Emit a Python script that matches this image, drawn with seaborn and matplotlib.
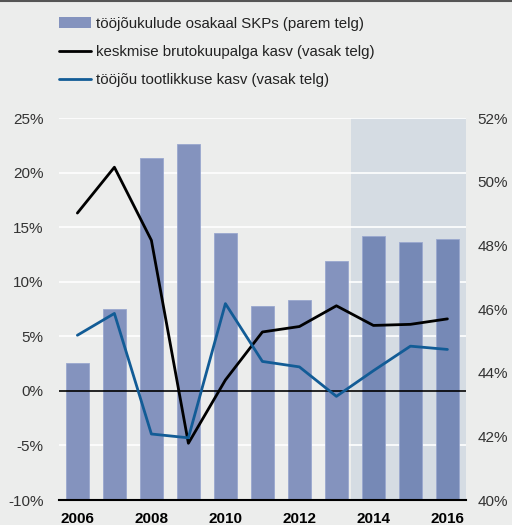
import matplotlib.pyplot as plt
import numpy as np
import seaborn as sns
from matplotlib.lines import Line2D
from matplotlib.patches import Patch
from matplotlib.ticker import FixedLocator, FuncFormatter
from matplotlib.transforms import blended_transform_factory

years = [2006, 2007, 2008, 2009, 2010, 2011, 2012, 2013, 2014, 2015, 2016]
labour_share = [44.3, 46.0, 50.75, 51.2, 48.4, 46.1, 46.3, 47.5, 48.3, 48.1, 48.2]
wage_growth = [16.3, 20.5, 13.8, -4.8, 1.0, 5.4, 5.9, 7.8, 6.0, 6.1, 6.6]
productivity_growth = [5.1, 7.1, -3.95, -4.3, 8.0, 2.7, 2.2, -0.5, 1.85, 4.1, 3.8]
forecast_years = [2014, 2015, 2016]

labels = [
    "tööjõukulude osakaal SKPs (parem telg)",
    "keskmise brutokuupalga kasv (vasak telg)",
    "tööjõu tootlikkuse kasv (vasak telg)",
]
left_ticks = [-10, -5, 0, 5, 10, 15, 20, 25]
right_ticks = [40, 42, 44, 46, 48, 50, 52]

BG = "#ECEDEC"
BAND = "#D5DCE3"
BAR = "#8493BE"
BAR_FC = "#7689B6"
BLUE = "#125C96"
TXT = "#333333"


def main():
    sns.set_style("white")
    plt.rcParams["font.family"] = ["Liberation Sans", "DejaVu Sans"]

    fig = plt.figure(figsize=(5.12, 5.25), dpi=100, facecolor=BG)
    ax = fig.add_axes([0.115, 0.0476, 0.795, 0.7274], facecolor=BG)
    ax2 = ax.twinx()

    # shaded forecast band
    ax.axvspan(forecast_years[0] - 0.6, forecast_years[-1] + 0.5, color=BAND, zorder=0, lw=0)

    # gridlines follow the left axis scale but sit below the bars
    trans = blended_transform_factory(ax.transAxes, ax2.transData)
    for t in left_ticks[1:]:
        ax.plot([0, 1], [t, t], transform=trans, color="white", lw=1.2, zorder=0.5)

    colors = [BAR_FC if y in forecast_years else BAR for y in years]
    sns.barplot(x=years, y=labour_share, hue=years, palette=colors, legend=False,
                native_scale=True, width=0.62, ax=ax, zorder=2,
                edgecolor="#9AA8CF", linewidth=0.6, saturation=1)

    ax2.axhline(0, color="black", lw=1.2, zorder=1)
    sns.lineplot(x=years, y=wage_growth, color="black", lw=2, ax=ax2)
    sns.lineplot(x=years, y=productivity_growth, color=BLUE, lw=2, ax=ax2)

    ax.set_xlim(years[0] - 0.5, years[-1] + 0.5)
    ax.set_ylim(40, 52)
    ax2.set_ylim(-10, 25)

    # right axis: bars
    ax.yaxis.tick_right()
    ax.set_yticks(right_ticks)
    ax.yaxis.set_major_formatter(FuncFormatter(lambda v, p: f"{v:.0f}%"))
    ax.tick_params(axis="y", length=0, pad=8.5, labelsize=11, labelcolor=TXT)

    # left axis: lines
    ax2.yaxis.tick_left()
    ax2.set_yticks(left_ticks)
    ax2.yaxis.set_major_formatter(FuncFormatter(lambda v, p: f"{v:.0f}%"))
    ax2.tick_params(axis="y", length=0, pad=11, labelsize=11, labelcolor=TXT)

    ax.set_xticks(years[::2])
    ax.set_xticklabels([str(y) for y in years[::2]], fontweight="bold", fontsize=11)
    ax.xaxis.set_minor_locator(FixedLocator(np.arange(years[0] - 0.5, years[-1] + 1, 1)))
    ax.tick_params(axis="x", which="major", length=0, pad=8.5, labelcolor="black")
    ax.tick_params(axis="x", which="minor", direction="in", length=4, width=1.2, color="black")

    for a in (ax, ax2):
        for side in ("top", "left", "right", "bottom"):
            a.spines[side].set_visible(False)
        a.set_xlabel("")
        a.set_ylabel("")
    ax.spines["bottom"].set_visible(True)
    ax.spines["bottom"].set_color("black")
    ax.spines["bottom"].set_linewidth(1.5)
    ax.spines["bottom"].set_zorder(5)

    handles = [
        Patch(facecolor=BAR, edgecolor="none"),
        Line2D([], [], color="black", lw=2),
        Line2D([], [], color=BLUE, lw=2),
    ]
    fig.legend(handles, labels, loc="upper left", bbox_to_anchor=(0.115, 0.968),
               frameon=False, fontsize=10.8, handlelength=2.15, handletextpad=0.35,
               labelspacing=0.95, borderpad=0, borderaxespad=0, labelcolor="#222222")

    fig.add_artist(Line2D([0, 1], [0.998, 0.998], color="#555555", lw=1.5))

    fig.savefig("out.png", dpi=100, facecolor=BG)


if __name__ == "__main__":
    main()
